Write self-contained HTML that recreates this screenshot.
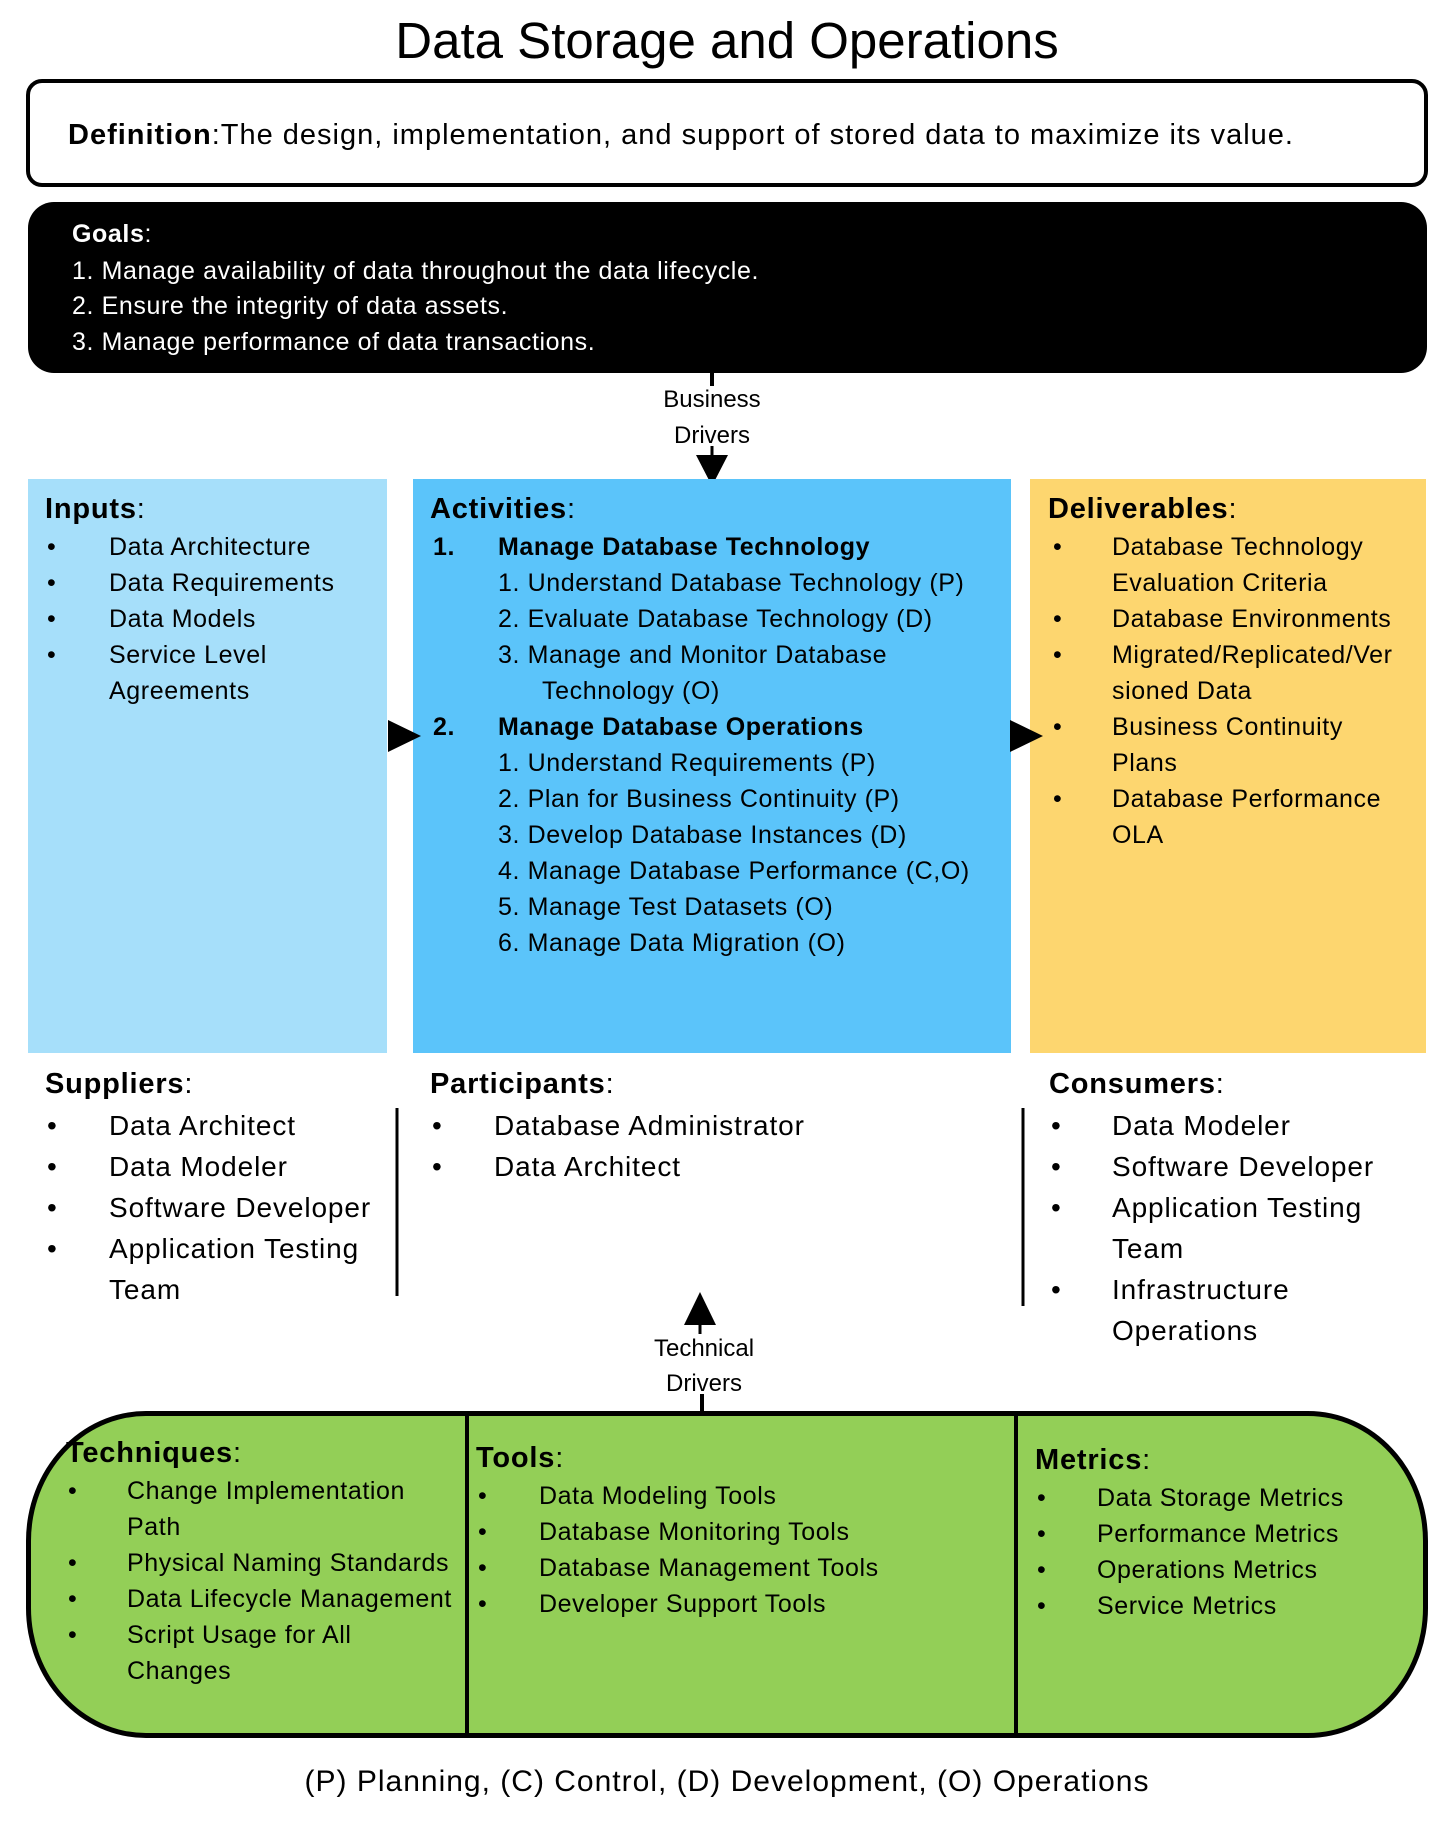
<!DOCTYPE html>
<html><head><meta charset="utf-8"><style>
body{margin:0;width:1454px;height:1828px;position:relative;background:#fff;font-family:"Liberation Sans",sans-serif;color:#000;overflow:hidden}
.a{position:absolute;white-space:nowrap;line-height:36px;height:36px}
.t{font-size:25px;letter-spacing:0.6px}
.h{font-size:29px;font-weight:bold;letter-spacing:0.8px}
.s{font-size:28px;letter-spacing:0.9px;line-height:40px;height:40px}
.box{position:absolute;box-sizing:border-box}
</style></head><body>
<div class="a" style="left:0;width:1454px;text-align:center;top:16px;line-height:50px;height:50px;font-size:51px">Data Storage and Operations</div>

<div class="box" style="left:26px;top:79px;width:1402px;height:108px;border:4px solid #000;border-radius:16px"></div>
<div class="a" style="left:68px;top:117px;font-size:29px;letter-spacing:1px"><b>Definition</b>:The design, implementation, and support of stored data to maximize its value.</div>

<div class="box" style="left:28px;top:202px;width:1399px;height:171px;background:#000;border-radius:26px"></div>
<div class="a t" style="left:72px;top:216px;color:#fff"><b>Goals</b>:</div>
<div class="a t" style="left:72px;top:253px;color:#fff">1. Manage availability of data throughout the data lifecycle.</div>
<div class="a t" style="left:72px;top:288px;color:#fff">2. Ensure the integrity of data assets.</div>
<div class="a t" style="left:72px;top:324px;color:#fff">3. Manage performance of data transactions.</div>

<svg style="position:absolute;left:0;top:0" width="1454" height="1828">
<line x1="712" y1="373" x2="712" y2="386" stroke="#000" stroke-width="4"/>
<line x1="712" y1="446" x2="712" y2="460" stroke="#000" stroke-width="3"/>
<polygon points="696,455 728,455 712,486" fill="#000"/>
<line x1="700" y1="1320" x2="700" y2="1334" stroke="#000" stroke-width="3"/>
<polygon points="684,1325 716,1325 700,1292" fill="#000"/>
<line x1="702" y1="1394" x2="702" y2="1414" stroke="#000" stroke-width="4"/>
<line x1="397" y1="1108" x2="397" y2="1296" stroke="#000" stroke-width="3"/>
<line x1="1023" y1="1108" x2="1023" y2="1306" stroke="#000" stroke-width="3"/>
</svg>
<div class="a" style="left:612px;width:200px;text-align:center;top:382px;font-size:24px">Business</div>
<div class="a" style="left:612px;width:200px;text-align:center;top:418px;font-size:24px">Drivers</div>

<div class="box" style="left:28px;top:479px;width:359px;height:574px;background:#a6dffa"></div>
<div class="box" style="left:413px;top:479px;width:598px;height:574px;background:#5bc4fa"></div>
<div class="box" style="left:1030px;top:479px;width:396px;height:574px;background:#fdd66f"></div>
<svg style="position:absolute;left:0;top:0" width="1454" height="1100">
<polygon points="388,720 388,752 421,736" fill="#000"/>
<polygon points="1010,720 1010,752 1043,736" fill="#000"/>
</svg>

<div class="a h" style="left:45px;top:491px">Inputs<span style="font-weight:normal">:</span></div>
<div class="a t" style="left:47px;top:529px">•</div><div class="a t" style="left:109px;top:529px">Data Architecture</div>
<div class="a t" style="left:47px;top:565px">•</div><div class="a t" style="left:109px;top:565px">Data Requirements</div>
<div class="a t" style="left:47px;top:601px">•</div><div class="a t" style="left:109px;top:601px">Data Models</div>
<div class="a t" style="left:47px;top:637px">•</div><div class="a t" style="left:109px;top:637px">Service Level</div>
<div class="a t" style="left:109px;top:673px">Agreements</div>

<div class="a h" style="left:430px;top:491px">Activities<span style="font-weight:normal">:</span></div>
<div class="a t" style="left:433px;top:529px;font-weight:bold">1.</div><div class="a t" style="left:498px;top:529px;font-weight:bold">Manage Database Technology</div>
<div class="a t" style="left:498px;top:565px">1. Understand Database Technology (P)</div>
<div class="a t" style="left:498px;top:601px">2. Evaluate Database Technology (D)</div>
<div class="a t" style="left:498px;top:637px">3. Manage and Monitor Database</div>
<div class="a t" style="left:542px;top:673px">Technology (O)</div>
<div class="a t" style="left:433px;top:709px;font-weight:bold">2.</div><div class="a t" style="left:498px;top:709px;font-weight:bold">Manage Database Operations</div>
<div class="a t" style="left:498px;top:745px">1. Understand Requirements (P)</div>
<div class="a t" style="left:498px;top:781px">2. Plan for Business Continuity (P)</div>
<div class="a t" style="left:498px;top:817px">3. Develop Database Instances (D)</div>
<div class="a t" style="left:498px;top:853px">4. Manage Database Performance (C,O)</div>
<div class="a t" style="left:498px;top:889px">5. Manage Test Datasets (O)</div>
<div class="a t" style="left:498px;top:925px">6. Manage Data Migration (O)</div>

<div class="a h" style="left:1048px;top:491px">Deliverables<span style="font-weight:normal">:</span></div>
<div class="a t" style="left:1053px;top:529px">•</div><div class="a t" style="left:1112px;top:529px">Database Technology</div>
<div class="a t" style="left:1112px;top:565px">Evaluation Criteria</div>
<div class="a t" style="left:1053px;top:601px">•</div><div class="a t" style="left:1112px;top:601px">Database Environments</div>
<div class="a t" style="left:1053px;top:637px">•</div><div class="a t" style="left:1112px;top:637px">Migrated/Replicated/Ver</div>
<div class="a t" style="left:1112px;top:673px">sioned Data</div>
<div class="a t" style="left:1053px;top:709px">•</div><div class="a t" style="left:1112px;top:709px">Business Continuity</div>
<div class="a t" style="left:1112px;top:745px">Plans</div>
<div class="a t" style="left:1053px;top:781px">•</div><div class="a t" style="left:1112px;top:781px">Database Performance</div>
<div class="a t" style="left:1112px;top:817px">OLA</div>

<div class="a h" style="left:45px;top:1066px">Suppliers<span style="font-weight:normal">:</span></div>
<div class="a s" style="left:47px;top:1106px">•</div><div class="a s" style="left:109px;top:1106px">Data Architect</div>
<div class="a s" style="left:47px;top:1147px">•</div><div class="a s" style="left:109px;top:1147px">Data Modeler</div>
<div class="a s" style="left:47px;top:1188px">•</div><div class="a s" style="left:109px;top:1188px">Software Developer</div>
<div class="a s" style="left:47px;top:1229px">•</div><div class="a s" style="left:109px;top:1229px">Application Testing</div>
<div class="a s" style="left:109px;top:1270px">Team</div>

<div class="a h" style="left:430px;top:1066px">Participants<span style="font-weight:normal">:</span></div>
<div class="a s" style="left:432px;top:1106px">•</div><div class="a s" style="left:494px;top:1106px">Database Administrator</div>
<div class="a s" style="left:432px;top:1147px">•</div><div class="a s" style="left:494px;top:1147px">Data Architect</div>

<div class="a h" style="left:1049px;top:1066px">Consumers<span style="font-weight:normal">:</span></div>
<div class="a s" style="left:1051px;top:1106px">•</div><div class="a s" style="left:1112px;top:1106px">Data Modeler</div>
<div class="a s" style="left:1051px;top:1147px">•</div><div class="a s" style="left:1112px;top:1147px">Software Developer</div>
<div class="a s" style="left:1051px;top:1188px">•</div><div class="a s" style="left:1112px;top:1188px">Application Testing</div>
<div class="a s" style="left:1112px;top:1229px">Team</div>
<div class="a s" style="left:1051px;top:1270px">•</div><div class="a s" style="left:1112px;top:1270px">Infrastructure</div>
<div class="a s" style="left:1112px;top:1311px">Operations</div>

<div class="a" style="left:604px;width:200px;text-align:center;top:1331px;font-size:24px">Technical</div>
<div class="a" style="left:604px;width:200px;text-align:center;top:1366px;font-size:24px">Drivers</div>

<div class="box" style="left:26px;top:1411px;width:1402px;height:327px;background:#93cf57;border:5px solid #000;border-radius:120px/130px"></div>
<div class="box" style="left:465px;top:1413px;width:4px;height:323px;background:#000"></div>
<div class="box" style="left:1014px;top:1413px;width:4px;height:323px;background:#000"></div>

<div class="a h" style="left:66px;top:1435px">Techniques<span style="font-weight:normal">:</span></div>
<div class="a t" style="left:68px;top:1473px">•</div><div class="a t" style="left:127px;top:1473px">Change Implementation</div>
<div class="a t" style="left:127px;top:1509px">Path</div>
<div class="a t" style="left:68px;top:1545px">•</div><div class="a t" style="left:127px;top:1545px">Physical Naming Standards</div>
<div class="a t" style="left:68px;top:1581px">•</div><div class="a t" style="left:127px;top:1581px">Data Lifecycle Management</div>
<div class="a t" style="left:68px;top:1617px">•</div><div class="a t" style="left:127px;top:1617px">Script Usage for All</div>
<div class="a t" style="left:127px;top:1653px">Changes</div>

<div class="a h" style="left:476px;top:1440px">Tools<span style="font-weight:normal">:</span></div>
<div class="a t" style="left:478px;top:1478px">•</div><div class="a t" style="left:539px;top:1478px">Data Modeling Tools</div>
<div class="a t" style="left:478px;top:1514px">•</div><div class="a t" style="left:539px;top:1514px">Database Monitoring Tools</div>
<div class="a t" style="left:478px;top:1550px">•</div><div class="a t" style="left:539px;top:1550px">Database Management Tools</div>
<div class="a t" style="left:478px;top:1586px">•</div><div class="a t" style="left:539px;top:1586px">Developer Support Tools</div>

<div class="a h" style="left:1035px;top:1442px">Metrics<span style="font-weight:normal">:</span></div>
<div class="a t" style="left:1037px;top:1480px">•</div><div class="a t" style="left:1097px;top:1480px">Data Storage Metrics</div>
<div class="a t" style="left:1037px;top:1516px">•</div><div class="a t" style="left:1097px;top:1516px">Performance Metrics</div>
<div class="a t" style="left:1037px;top:1552px">•</div><div class="a t" style="left:1097px;top:1552px">Operations Metrics</div>
<div class="a t" style="left:1037px;top:1588px">•</div><div class="a t" style="left:1097px;top:1588px">Service Metrics</div>

<div class="a" style="left:0;width:1454px;text-align:center;top:1762px;font-size:30px;letter-spacing:1px;line-height:40px;height:40px">(P) Planning, (C) Control, (D) Development, (O) Operations</div>
</body></html>
